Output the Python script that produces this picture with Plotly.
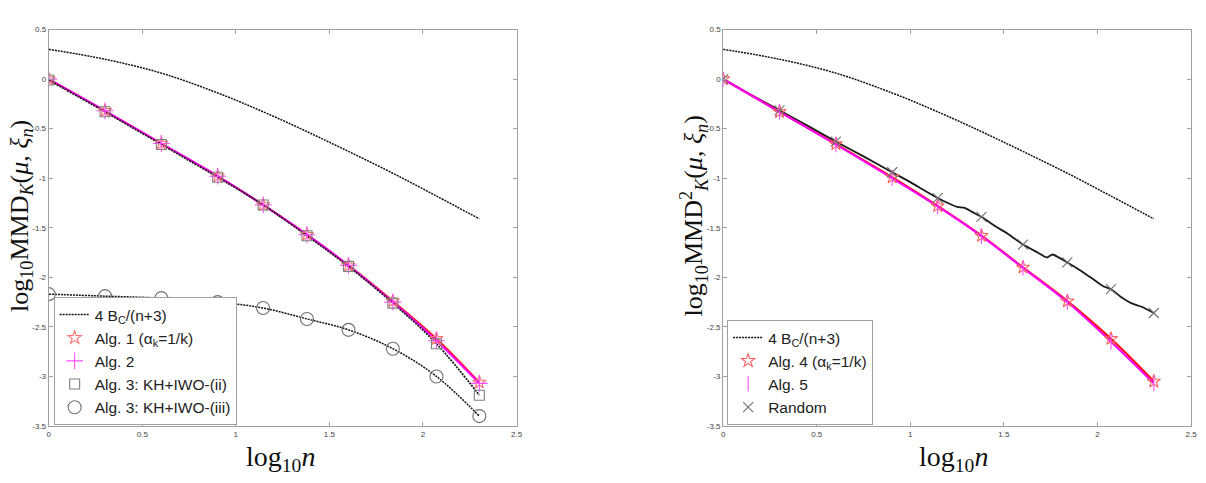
import plotly.graph_objects as go

# ---------------- data ----------------
x_mk = [0.0, 0.301, 0.602, 0.903, 1.146, 1.380, 1.602, 1.839, 2.072, 2.301]

bound = [0.30, 0.20, 0.06, -0.14, -0.33, -0.53, -0.73, -0.95, -1.18, -1.41]

# left panel
alg1 = [0.0, -0.32, -0.65, -0.98, -1.27, -1.57, -1.88, -2.24, -2.62, -3.06]
alg2 = [0.0, -0.32, -0.65, -0.98, -1.27, -1.57, -1.88, -2.25, -2.64, -3.07]
alg3_ii = [-0.01, -0.33, -0.66, -0.99, -1.27, -1.58, -1.89, -2.26, -2.67, -3.19]
alg3_iii = [-2.17, -2.19, -2.21, -2.25, -2.31, -2.42, -2.53, -2.72, -3.00, -3.40]

# right panel
alg4 = [0.0, -0.33, -0.655, -0.99, -1.28, -1.58, -1.90, -2.24, -2.62, -3.05]
alg5 = [0.0, -0.33, -0.66, -1.00, -1.285, -1.585, -1.905, -2.25, -2.65, -3.07]
rand_x = [0.0, 0.15, 0.301, 0.45, 0.602, 0.75, 0.903, 1.0, 1.08, 1.146, 1.2, 1.25,
          1.29, 1.33, 1.380, 1.45, 1.52, 1.602, 1.68, 1.73, 1.76, 1.839, 1.9, 1.97,
          2.03, 2.072, 2.12, 2.18, 2.24, 2.301]
rand_y = [0.0, -0.16, -0.315, -0.47, -0.63, -0.78, -0.94, -1.04, -1.13, -1.20, -1.25,
          -1.29, -1.30, -1.34, -1.39, -1.48, -1.56, -1.67, -1.75, -1.80, -1.77, -1.85,
          -1.92, -2.01, -2.09, -2.12, -2.19, -2.26, -2.30, -2.36]
rand_mk = [0.0, -0.315, -0.63, -0.94, -1.20, -1.39, -1.67, -1.85, -2.12, -2.36]

x_ticks = [0, 0.5, 1, 1.5, 2, 2.5]
x_ticktext = ["0", "0.5", "1", "1.5", "2", "2.5"]
y_ticks = [0.5, 0, -0.5, -1, -1.5, -2, -2.5, -3, -3.5]
y_ticktext = ["0.5", "0", "-0.5", "-1", "-1.5", "-2", "-2.5", "-3", "-3.5"]

# ---------------- figure ----------------
fig = go.Figure()
DOT = "2px,1px"

def line(x, y, ax, color, width=1.6, dash="solid", name=None, legend=None, rank=None, smooth=1.0):
    fig.add_trace(go.Scatter(
        x=x, y=y, mode="lines", xaxis="x" + ax, yaxis="y" + ax,
        line=dict(color=color, width=width, dash=dash, shape="spline", smoothing=smooth),
        name=name or "", showlegend=name is not None, legend=legend,
        legendrank=rank if rank else 1000, hoverinfo="skip"))

def marks(x, y, ax, symbol, color, size, name, legend, rank, lw=1.1):
    fig.add_trace(go.Scatter(
        x=x, y=y, mode="markers", xaxis="x" + ax, yaxis="y" + ax,
        marker=dict(symbol=symbol, size=size, color=color, line=dict(color=color, width=lw)),
        name=name, legend=legend, legendrank=rank, showlegend=True, hoverinfo="skip"))

BOUND_NAME = "4 B<sub>C</sub>/(n+3)"

# left panel lines
line(x_mk, bound, "", "#111111", 1.5, DOT, BOUND_NAME, "legend", 1)
line(x_mk, alg3_iii, "", "#111111", 1.5, DOT)
line(x_mk, alg1, "", "#ff2020", 2.0)
line(x_mk, alg2, "", "#ff00ff", 2.0)
line(x_mk, alg3_ii, "", "#1a1a1a", 1.8, DOT)
# left panel markers
marks(x_mk, alg1, "", "star-open", "#ff7070", 10, "Alg. 1 (α<sub>k</sub>=1/k)", "legend", 2)
marks(x_mk, alg2, "", "cross-thin-open", "#ff50ff", 12, "Alg. 2", "legend", 3)
marks(x_mk, alg3_ii, "", "square-open", "#808080", 10, "Alg. 3: KH+IWO-(ii)", "legend", 4)
marks(x_mk, alg3_iii, "", "circle-open", "#707070", 13, "Alg. 3: KH+IWO-(iii)", "legend", 5)

# right panel lines
line(x_mk, bound, "2", "#111111", 1.5, DOT, BOUND_NAME, "legend2", 1)
line(rand_x, rand_y, "2", "#1a1a1a", 1.8, smooth=0.5)
line(x_mk, alg4, "2", "#ff1010", 2.2)
line(x_mk, alg5, "2", "#ff00ff", 2.0)
# right panel markers
marks(x_mk, alg4, "2", "star-open", "#ff6060", 10, "Alg. 4 (α<sub>k</sub>=1/k)", "legend2", 2)
marks(x_mk, alg5, "2", "line-ns-open", "#ff50ff", 11, "Alg. 5", "legend2", 3)
marks(x_mk, rand_mk, "2", "x-thin-open", "#707070", 10, "Random", "legend2", 4)

axis_common = dict(
    showline=True, linecolor="#a0a0a0", linewidth=1, mirror="ticks",
    ticks="inside", ticklen=4, tickcolor="#a0a0a0", showgrid=False, zeroline=False,
    tickfont=dict(family="Liberation Sans, Arial", size=8, color="#444444"),
)

legend_font = dict(family="Liberation Sans, Arial", size=15.5, color="#222222")

fig.update_layout(
    width=1206, height=483,
    margin=dict(l=0, r=0, t=0, b=0),
    paper_bgcolor="white", plot_bgcolor="white",
    xaxis=dict(domain=[47 / 1206, 518 / 1206], range=[0, 2.5], anchor="y",
               tickvals=x_ticks, ticktext=x_ticktext, **axis_common),
    yaxis=dict(domain=[1 - 430 / 483, 1 - 26 / 483], range=[-3.5, 0.5], anchor="x",
               tickvals=y_ticks, ticktext=y_ticktext, **axis_common),
    xaxis2=dict(domain=[726 / 1206, 1197 / 1206], range=[0, 2.5], anchor="y2",
                tickvals=x_ticks, ticktext=x_ticktext, **axis_common),
    yaxis2=dict(domain=[1 - 430 / 483, 1 - 26 / 483], range=[-3.5, 0.5], anchor="x2",
                tickvals=y_ticks, ticktext=y_ticktext, **axis_common),
    legend=dict(x=52 / 1206, y=1 - 429 / 483, xanchor="left", yanchor="bottom",
                bgcolor="white", bordercolor="#a0a0a0", borderwidth=1,
                font=legend_font, traceorder="normal", tracegroupgap=0),
    legend2=dict(x=730 / 1206, y=1 - 429 / 483, xanchor="left", yanchor="bottom",
                 bgcolor="white", bordercolor="#a0a0a0", borderwidth=1,
                 font=legend_font, traceorder="normal", tracegroupgap=0),
    showlegend=True,
)

serif = dict(family="Liberation Serif, DejaVu Serif, serif", size=28, color="#111111")
serif_y = dict(family="Liberation Serif, DejaVu Serif, serif", size=26, color="#111111")
ann = []
ann.append(dict(text="log<sub>10</sub><i>n</i>", x=280 / 1206, y=1 - 463 / 483,
                xref="paper", yref="paper", showarrow=False, font=serif,
                xanchor="center", yanchor="middle"))
ann.append(dict(text="log<sub>10</sub><i>n</i>", x=958 / 1206, y=1 - 463 / 483,
                xref="paper", yref="paper", showarrow=False, font=serif,
                xanchor="center", yanchor="middle"))
ann.append(dict(text="log<sub>10</sub>MMD<sub><i>K</i></sub>(<i>μ</i>, <i>ξ</i><sub><i>n</i></sub>)",
                x=1 / 1206, y=1 - 216 / 483, xref="paper", yref="paper", showarrow=False,
                font=serif_y, textangle=-90, xanchor="left", yanchor="middle"))
ann.append(dict(text="log<sub>10</sub>MMD<sup>2</sup><sub><i>K</i></sub>(<i>μ</i>, <i>ξ</i><sub><i>n</i></sub>)",
                x=676 / 1206, y=1 - 216 / 483, xref="paper", yref="paper", showarrow=False,
                font=serif_y, textangle=-90, xanchor="left", yanchor="middle"))
fig.update_layout(annotations=ann)

fig.write_html("out.html")
